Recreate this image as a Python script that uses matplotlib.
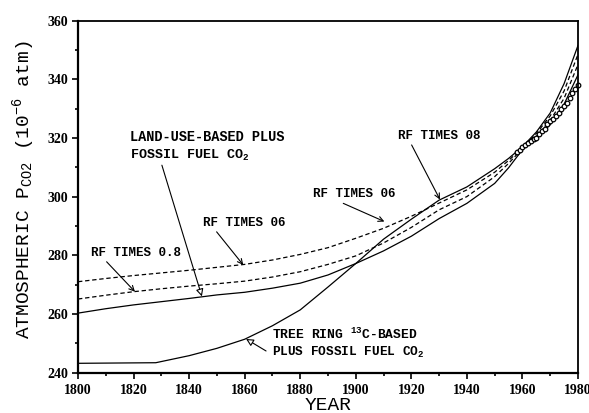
import matplotlib
matplotlib.use("Agg")
import matplotlib.pyplot as plt
from matplotlib.ticker import MultipleLocator

plt.rcParams["mathtext.default"] = "regular"

# model runs
years = [1800, 1810, 1820, 1830, 1840, 1850, 1860, 1870, 1880, 1890, 1900,
         1910, 1920, 1930, 1940, 1950, 1955, 1960, 1965, 1970, 1975, 1980]
land_use = [260.3, 261.8, 263.1, 264.2, 265.3, 266.5, 267.4, 268.8, 270.5, 273.3, 277.2,
            281.5, 286.5, 292.5, 297.7, 304.5, 309.8, 316.0, 319.8, 324.5, 331.5, 341.5]
rf_06 = [271.0, 272.1, 273.1, 274.0, 274.9, 275.9, 276.9, 278.4, 280.3, 282.6, 285.8,
         289.2, 293.3, 297.8, 302.3, 308.3, 312.3, 316.6, 321.5, 327.5, 336.0, 348.5]
rf_08 = [265.1, 266.4, 267.6, 268.6, 269.5, 270.3, 271.2, 272.6, 274.4, 276.9, 279.8,
         284.2, 289.5, 295.5, 300.0, 306.8, 311.3, 316.4, 320.5, 326.0, 333.5, 345.0]

tree_years = [1800, 1828, 1840, 1850, 1860, 1870, 1880, 1890, 1900, 1910, 1920,
              1930, 1940, 1950, 1955, 1960, 1965, 1970, 1975, 1980]
tree_ring = [243.2, 243.4, 245.8, 248.3, 251.4, 256.0, 261.4, 269.2, 277.2, 285.5, 292.3,
             298.8, 303.3, 309.5, 313.0, 317.0, 322.0, 328.5, 338.5, 351.5]

# observed (circles)
obs_years = list(range(1958, 1981))
obs = [315.3, 316.0, 316.9, 317.6, 318.4, 319.0, 319.6, 320.0, 321.4, 322.2, 323.0, 324.6,
       325.7, 326.3, 327.5, 328.6, 330.0, 331.0, 332.0, 333.6, 335.2, 336.6, 338.0]

fig = plt.figure(figsize=(5.89, 4.13), dpi=100)
ax = fig.add_axes([78 / 589, 1 - 372.7 / 413, 500 / 589, 352.2 / 413])

lw = 0.9
ax.plot(years, land_use, color="black", lw=lw)
ax.plot(tree_years, tree_ring, color="black", lw=lw)
ax.plot(years, rf_06, color="black", lw=lw, dashes=(3.5, 2.2))
ax.plot(years, rf_08, color="black", lw=lw, dashes=(3.5, 2.2))
ax.plot(obs_years, obs, "o", ms=3.3, mfc="white", mec="black", mew=0.9, clip_on=False)

ax.set_xlim(1800, 1980)
ax.set_ylim(240, 360)
ax.xaxis.set_major_locator(MultipleLocator(20))
ax.xaxis.set_minor_locator(MultipleLocator(10))
ax.yaxis.set_major_locator(MultipleLocator(20))
ax.yaxis.set_minor_locator(MultipleLocator(10))
ax.tick_params(which="both", direction="out", top=False, right=False, width=1.2)
ax.tick_params(which="major", length=4)
ax.tick_params(which="minor", length=2.5)
ax.tick_params(axis="x", pad=4)
ax.tick_params(axis="y", pad=3)
for lab in ax.get_xticklabels() + ax.get_yticklabels():
    lab.set_fontfamily("Liberation Serif")
    lab.set_fontweight("bold")
    lab.set_fontsize(10)
for side in ["left", "bottom"]:
    ax.spines[side].set_linewidth(1.6)
for side in ["top", "right"]:
    ax.spines[side].set_linewidth(1.3)

fig.text(23.5 / 589, 1 - 190 / 413, r"ATMOSPHERIC P$_{CO2}$ (10$^{-6}$ atm)",
         rotation=90, ha="center", va="center", family="Liberation Mono", fontsize=14)
fig.text(328 / 589, 1 - 410.5 / 413, "YEAR", ha="center", va="baseline",
         family="Liberation Mono", fontsize=14)

tkw = dict(family="Liberation Mono", fontweight="bold", fontsize=9, ha="left", va="baseline")
ax.text(1818.7, 318.9, "LAND-USE-BASED PLUS", **dict(tkw, fontsize=9.8))
ax.text(1818.7, 312.8, "FOSSIL FUEL CO$_2$", **dict(tkw, fontsize=9.6))
ax.text(1804.7, 279.8, "RF TIMES 0.8", **tkw)
ax.text(1844.9, 290.0, "RF TIMES 06", **tkw)
ax.text(1884.7, 299.7, "RF TIMES 06", **tkw)
ax.text(1915.2, 319.6, "RF TIMES 08", **tkw)
ax.text(1869.7, 251.6, "TREE RING $^{13}$C-BASED", **dict(tkw, fontsize=9.4))
ax.text(1869.7, 245.7, "PLUS FOSSIL FUEL CO$_2$", **dict(tkw, fontsize=9.2))

v_arrow = dict(arrowstyle="->", color="black", lw=0.8, shrinkA=0, shrinkB=0,
               mutation_scale=9)
tri_arrow = dict(arrowstyle="-|>", fc="white", ec="black", lw=0.8, shrinkA=0,
                 shrinkB=0, mutation_scale=11)
ax.annotate("", xy=(1844.6, 266.0), xytext=(1830.2, 310.7), arrowprops=tri_arrow)
ax.annotate("", xy=(1860.5, 251.5), xytext=(1867.7, 247.4), arrowprops=tri_arrow)
ax.annotate("", xy=(1820.5, 267.6), xytext=(1810.3, 277.8), arrowprops=v_arrow)
ax.annotate("", xy=(1859.5, 276.7), xytext=(1849.9, 288.0), arrowprops=v_arrow)
ax.annotate("", xy=(1910.3, 291.5), xytext=(1895.5, 297.7), arrowprops=v_arrow)
ax.annotate("", xy=(1930.3, 299.0), xytext=(1920.1, 317.6), arrowprops=v_arrow)

fig.savefig("out.png", dpi=100)
